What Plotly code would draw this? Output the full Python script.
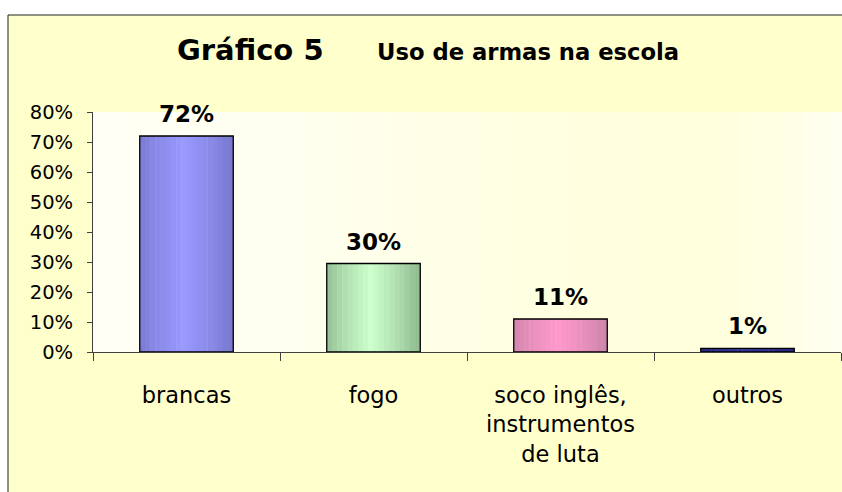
import plotly.graph_objects as go

categories = ["brancas", "fogo", "soco inglês,<br>instrumentos<br>de luta", "outros"]
values = [0.72, 0.295, 0.11, 0.012]
value_labels = ["72%", "30%", "11%", "1%"]
y_ticks = [0, 0.1, 0.2, 0.3, 0.4, 0.5, 0.6, 0.7, 0.8]
y_tick_labels = ["0%", "10%", "20%", "30%", "40%", "50%", "60%", "70%", "80%"]

center_colors = ["#9999FF", "#CCFFCC", "#FF99CC", "#333399"]
edge_colors = ["#7A7AD2", "#93BD93", "#D086AC", "#26267A"]

FONT = "DejaVu Sans"
W, H = 842, 492
L, R, T, B = 93, 1, 112, 140
PW, PH = W - L - R, H - T - B


def hex2rgb(h):
    h = h.lstrip("#")
    return tuple(int(h[i:i + 2], 16) for i in (0, 2, 4))


def mix(c1, c2, f):
    a, b = hex2rgb(c1), hex2rgb(c2)
    return "rgb(%d,%d,%d)" % tuple(round(a[i] + (b[i] - a[i]) * f) for i in range(3))


fig = go.Figure()

BAR_W = 0.5
N = 18
sw = BAR_W / N
for k in range(N):
    t = (k + 0.5) / N
    f = max(0.0, 1 - abs(t - 0.47) * 2.1)
    f = f ** 0.8
    cols = [mix(e, c, f) for e, c in zip(edge_colors, center_colors)]
    fig.add_trace(go.Bar(
        x=categories, y=values, width=sw * 1.08, offset=-BAR_W / 2 + k * sw,
        marker=dict(color=cols, line=dict(width=0)), hoverinfo="skip", showlegend=False,
    ))

fig.add_trace(go.Bar(
    x=categories, y=values, width=BAR_W, offset=-BAR_W / 2,
    marker=dict(color="rgba(0,0,0,0)", line=dict(color="black", width=1.3)),
    showlegend=False,
))

shapes = []
# chart area background and border
shapes.append(dict(type="rect", xref="paper", yref="paper", layer="below",
                   x0=(8 - L) / PW, x1=(W + 20 - L) / PW,
                   y0=-(B + 20) / PH, y1=(H - B - 15) / PH,
                   fillcolor="#FFFFCC", line=dict(color="#202020", width=1)))

# plot area horizontal gradient
stops = [(0.0, "#FFFFF6"), (0.3, "#FFFFEE"), (0.55, "#FFFFE3"), (0.8, "#FFFFDC"), (0.93, "#FFFFE6"), (1.0, "#FFFFF2")]
NS = 60
for i in range(NS):
    x = (i + 0.5) / NS
    for j in range(len(stops) - 1):
        if stops[j][0] <= x <= stops[j + 1][0]:
            ff = (x - stops[j][0]) / (stops[j + 1][0] - stops[j][0])
            col = mix(stops[j][1], stops[j + 1][1], ff)
            break
    shapes.append(dict(type="rect", xref="x domain", yref="y domain", layer="below",
                       x0=i / NS, x1=(i + 1) / NS + 0.002, y0=0, y1=1,
                       fillcolor=col, line=dict(width=0)))

annotations = []
for c, v, lab in zip(categories, values, value_labels):
    annotations.append(dict(x=c, y=v, text="<b>%s</b>" % lab, showarrow=False,
                            xanchor="center", yanchor="middle", yshift=22,
                            font=dict(family=FONT, size=23, color="black")))

annotations.append(dict(xref="paper", yref="paper", x=(250 - L) / PW, y=(H - B - 50) / PH,
                        text="<b>Gráfico 5</b>", showarrow=False, xanchor="center", yanchor="middle",
                        font=dict(family=FONT, size=29, color="black")))
annotations.append(dict(xref="paper", yref="paper", x=(528 - L) / PW, y=(H - B - 52) / PH,
                        text="<b>Uso de armas na escola</b>", showarrow=False, xanchor="center", yanchor="middle",
                        font=dict(family=FONT, size=22.7, color="black")))

fig.update_layout(
    width=W, height=H,
    margin=dict(l=L, r=R, t=T, b=B, pad=0),
    paper_bgcolor="white", plot_bgcolor="rgba(0,0,0,0)",
    barmode="overlay", bargap=0.5,
    shapes=shapes, annotations=annotations,
    font=dict(family=FONT, color="black"),
)
fig.update_xaxes(
    showgrid=False, zeroline=False, showline=True, linecolor="#404040", linewidth=1,
    ticks="outside", ticklen=8, tickcolor="#404040", tickson="boundaries",
    tickfont=dict(family=FONT, size=22.5, color="black"), ticklabelstandoff=23,
    fixedrange=True,
)
fig.update_yaxes(
    range=[0, 0.8], tickvals=y_ticks, ticktext=y_tick_labels,
    showgrid=False, zeroline=False, showline=True, linecolor="#404040", linewidth=1,
    ticks="outside", ticklen=5, tickcolor="#404040",
    tickfont=dict(family=FONT, size=19.5, color="black"), ticklabelstandoff=10,
    fixedrange=True,
)

fig.write_html("out.html", config=dict(displayModeBar=False),
               post_script="document.body.style.margin='0';document.body.style.overflow='hidden';")
